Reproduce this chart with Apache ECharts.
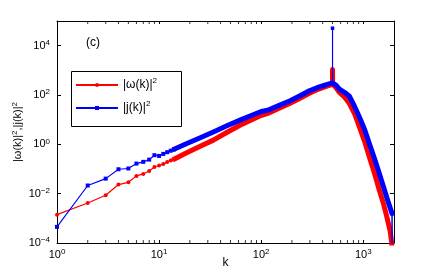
<!DOCTYPE html>
<html><head><meta charset="utf-8">
<script src="https://cdn.jsdelivr.net/npm/echarts@6/dist/echarts.min.js"></script>
<style>html,body{margin:0;padding:0;background:#fff}#c{width:436px;height:273px}</style>
</head><body><div id="c"></div>
<script>
// ---- data ----
const omegaLowK = [1,2,3,4,5,6,7,8,9,10,11,12,13,14];
const omegaLowV = [1.41e-3,4.17e-3,8.6e-3,0.0234,0.0288,0.0525,0.063,0.083,0.12,0.138,0.158,0.19,0.219,0.25];
const omegaHighK = [14,18,25,34,45,62,80,96,116,150,190,240,297,360,420,470,499,500,501,540,584,660,731,820,916,1030,1147,1290,1437,1580,1671,1829,1900,1940];
const omegaHighV = [0.25,0.427,0.82,1.48,2.88,5.96,9.8,13.8,17.8,28.8,45.2,74,117,170,214,251,275,1070,275,200,126,79,45.2,17.8,5.08,1.32,0.309,0.066,0.0138,0.0038,1.55e-3,3.27e-4,1.0e-4,1e-7];
const jLowK = [1,2,3,4,5,6,7,8,9,10,11,12,13,14];
const jLowV = [4.5e-4,0.0214,0.0407,0.0977,0.105,0.166,0.195,0.24,0.363,0.339,0.41,0.48,0.55,0.63];
const jHighK = [14,18,25,34,45,62,80,100,116,150,190,240,297,360,420,470,499,501,540,584,660,731,820,916,1030,1147,1290,1437,1580,1733,1914];
const jHighV = [0.63,1.0,1.82,3.16,5.37,9.55,14.8,21.4,24,38,57.5,93,148,204,251,288,309,309,251,172,126,89,35,12.9,4.0,1.07,0.26,0.065,0.0186,5.4e-3,1.55e-3];
const jTailK = [1914,1922];
const jTailV = [1.55e-3,1e-7];
const jSpikeK = [500,500];
const jSpikeV = [309,51000];
const xMinorTicks = [2,3,4,5,6,7,8,9,20,30,40,50,60,70,80,90,200,300,400,500,600,700,800,900];
const xTickExp = [0,1,2,3];
const yTickExp = [-4,-2,0,2,4];
const legendLabels = {omega: '|ω(k)|', j: '|j(k)|'};

const X_MIN = 1, X_MAX = 2000, Y_MIN = 1e-4, Y_MAX = 1e5;
const F = 'Liberation Sans, Arial, sans-serif';
const zip = (a, b) => a.map((v, i) => [v, b[i]]);
const RED = '#ff0000', BLUE = '#0000ff';

const tickRich = {
  b: {fontSize: 11, fontFamily: F, color: '#000', lineHeight: 14},
  e: {fontSize: 8, fontFamily: F, color: '#000', lineHeight: 7, verticalAlign: 'top'}
};
function expLabel(v, allowed) {
  const e = Math.round(Math.log10(v));
  if (Math.abs(v / Math.pow(10, e) - 1) > 1e-6 || allowed.indexOf(e) < 0) return '';
  return '{b|10}{e|' + (e < 0 ? '\u2212' + (-e) : e) + '}';
}

const axisLine = {show: true, onZero: false, lineStyle: {color: '#000', width: 1}};
const chart = echarts.init(document.getElementById('c'), null, {renderer: 'canvas'});
chart.setOption({
  animation: false,
  backgroundColor: '#fff',
  title: {text: '(c)', left: 81, top: 32, textStyle: {fontFamily: F, fontSize: 12, fontWeight: 'normal', color: '#000'}},
  grid: {left: 57, right: 42, top: 21, bottom: 30, containLabel: false, outerBoundsMode: 'none'},
  graphic: [{
    type: 'rect', left: 69, top: 69, z: 100, silent: true,
    shape: {width: 110, height: 55},
    style: {fill: 'none', stroke: '#000', lineWidth: 1}
  }],
  legend: {
    data: ['omega', 'j'], orient: 'vertical', left: 69, top: 69,
    padding: [8, 4, 8, 6], itemGap: 9, itemWidth: 42, itemHeight: 5,
    borderWidth: 0, selectedMode: false,
    formatter: n => '{t|' + legendLabels[n] + '}{s|2}',
    textStyle: {rich: {
      t: {fontSize: 12, fontFamily: F, color: '#000', lineHeight: 16},
      s: {fontSize: 8, fontFamily: F, color: '#000', lineHeight: 8, verticalAlign: 'top'}
    }}
  },
  xAxis: [{
    type: 'log', logBase: 10, min: X_MIN, max: X_MAX, interval: 1, position: 'bottom',
    axisLine, axisTick: {show: true, inside: true, length: 3, lineStyle: {color: '#000'}},
    axisLabel: {margin: 5, formatter: v => expLabel(v, xTickExp), rich: tickRich},
    splitLine: {show: false},
    name: 'k', nameLocation: 'middle', nameGap: 14, nameMoveOverlap: false,
    nameTextStyle: {fontFamily: F, fontSize: 12, color: '#000'}
  }, {
    type: 'log', logBase: 10, min: X_MIN, max: X_MAX, interval: 1, position: 'top',
    axisLine, axisTick: {show: true, inside: true, length: 3, lineStyle: {color: '#000'}},
    axisLabel: {show: false}, splitLine: {show: false}
  }],
  yAxis: [{
    type: 'log', logBase: 10, min: Y_MIN, max: Y_MAX, interval: 2, position: 'left',
    axisLine, axisTick: {show: true, inside: true, length: 4, lineStyle: {color: '#000'}},
    axisLabel: {margin: 7, formatter: v => expLabel(v, yTickExp), rich: tickRich},
    splitLine: {show: false},
    name: '{t||ω(k)|}{s|2}{t|,|j(k)|}{s|2}', nameLocation: 'middle', nameGap: 32, nameMoveOverlap: false,
    nameTextStyle: {rich: {
      t: {fontSize: 11, fontFamily: F, color: '#000', lineHeight: 14},
      s: {fontSize: 8, fontFamily: F, color: '#000', lineHeight: 7, verticalAlign: 'top'}
    }}
  }, {
    type: 'log', logBase: 10, min: Y_MIN, max: Y_MAX, interval: 2, position: 'right',
    axisLine, axisTick: {show: true, inside: true, length: 4, lineStyle: {color: '#000'}},
    axisLabel: {show: false}, splitLine: {show: false}
  }],
  series: [
    {name: 'omega', type: 'line', data: zip(omegaLowK, omegaLowV), symbol: 'circle', symbolSize: 4,
     lineStyle: {color: RED, width: 1.2}, itemStyle: {color: RED}, z: 3},
    {name: 'omega', type: 'line', data: zip(omegaHighK, omegaHighV), symbol: 'none',
     lineStyle: {color: RED, width: 5, join: 'round', cap: 'round'}, itemStyle: {color: RED}, z: 3},
    {name: 'j', type: 'line', data: zip(jLowK, jLowV), symbol: 'rect', symbolSize: 4,
     lineStyle: {color: BLUE, width: 1.2}, itemStyle: {color: BLUE}, z: 4},
    {name: 'j', type: 'line', data: zip(jHighK, jHighV), symbol: 'none',
     lineStyle: {color: BLUE, width: 5, join: 'round', cap: 'round'}, itemStyle: {color: BLUE}, z: 4},
    {name: 'j', type: 'line', data: zip(jTailK, jTailV), symbol: 'none',
     lineStyle: {color: BLUE, width: 1.5}, z: 4},
    {name: 'j', type: 'line', data: zip(jSpikeK, jSpikeV).map((p, i) => ({value: p, symbol: i === 0 ? 'none' : 'rect'})),
     symbolSize: 3.5, lineStyle: {color: BLUE, width: 1.2}, itemStyle: {color: BLUE}, z: 4},
    {name: 'ticksB', type: 'scatter', data: xMinorTicks.map(k => [k, Y_MIN]), symbol: 'rect',
     symbolSize: [1, 3], symbolOffset: [0, -1.5], itemStyle: {color: '#000'}, silent: true, clip: false, z: 5},
    {name: 'ticksT', type: 'scatter', data: xMinorTicks.map(k => [k, Y_MAX]), symbol: 'rect',
     symbolSize: [1, 3], symbolOffset: [0, 1.5], itemStyle: {color: '#000'}, silent: true, clip: false, z: 5}
  ]
});
</script>
</body></html>
